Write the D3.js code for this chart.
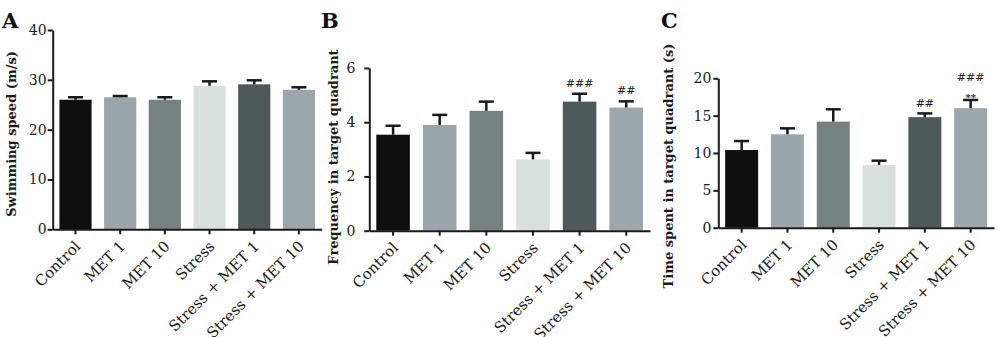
<!DOCTYPE html>
<html>
<head>
<meta charset="utf-8">
<script src="https://cdn.jsdelivr.net/npm/d3@7"></script>
<style>
  body { margin: 0; background: #fff; }
  svg { display: block; }
</style>
</head>
<body>
<div id="fig"></div>
<script>
// groups shared by the three panels
const groups = ["Control", "MET 1", "MET 10", "Stress", "Stress + MET 1", "Stress + MET 10"];

// A: swimming speed (mean, SEM)
const speedMean = [26.0, 26.5, 26.0, 28.8, 29.1, 28.0];
const speedSem = [0.5, 0.25, 0.5, 0.9, 0.8, 0.5];
const speedTicks = [0, 10, 20, 30, 40];

// B: frequency in target quadrant
const freqMean = [3.54, 3.90, 4.42, 2.63, 4.76, 4.54];
const freqSem = [0.33, 0.37, 0.34, 0.24, 0.29, 0.23];
const freqTicks = [0, 2, 4, 6];
const freqMarks = ["", "", "", "", "###", "##"];

// C: time spent in target quadrant
const timeMean = [10.4, 12.5, 14.2, 8.4, 14.8, 16.0];
const timeSem = [1.2, 0.8, 1.65, 0.57, 0.5, 1.1];
const timeTicks = [0, 5, 10, 15, 20];
const timeMarks = ["", "", "", "", "##", "###"];
const timeStars = ["", "", "", "", "", "**"];

const barColors = ["#0e100f", "#9ba6ab", "#75827f", "#d8e0de", "#4e5a5a", "#9ba7ac"];

const W = 1000, H = 337;
const svg = d3.select("#fig").append("svg")
    .attr("width", W)
    .attr("height", H);

const serif = "'DejaVu Serif', serif";
const ink = "#1a1a1a";

function drawPanel(p) {
    let g = svg.append("g");
    let xScale = d3.scaleBand()
        .domain(groups)
        .range([p.x0, p.x1])
        .paddingInner(0.28)
        .paddingOuter(0.15);
    let yScale = d3.scaleLinear()
        .domain([0, p.yMax])
        .range([p.yBottom, p.yTop]);

    let rows = groups.map((name, i) => ({
        name: name,
        mean: p.mean[i],
        sem: p.sem[i],
        color: barColors[i],
        mark: p.marks ? p.marks[i] : "",
        stars: p.stars ? p.stars[i] : ""
    }));

    // bars
    g.selectAll("rect.bar")
        .data(rows)
        .enter()
        .append("rect")
        .attr("class", "bar")
        .attr("x", d => xScale(d.name))
        .attr("width", xScale.bandwidth())
        .attr("y", d => yScale(d.mean))
        .attr("height", d => yScale(0) - yScale(d.mean))
        .attr("fill", d => d.color);

    // upper error bars
    let cx = d => xScale(d.name) + xScale.bandwidth() / 2;
    g.selectAll("line.err")
        .data(rows)
        .enter()
        .append("line")
        .attr("class", "err")
        .attr("x1", cx).attr("x2", cx)
        .attr("y1", d => yScale(d.mean))
        .attr("y2", d => yScale(d.mean + d.sem))
        .attr("stroke", ink)
        .attr("stroke-width", 2.5);
    g.selectAll("line.cap")
        .data(rows)
        .enter()
        .append("line")
        .attr("class", "cap")
        .attr("x1", d => cx(d) - 7.5).attr("x2", d => cx(d) + 7.5)
        .attr("y1", d => yScale(d.mean + d.sem))
        .attr("y2", d => yScale(d.mean + d.sem))
        .attr("stroke", ink)
        .attr("stroke-width", 2.5);

    // significance marks
    g.selectAll("text.mark")
        .data(rows.filter(d => d.mark))
        .enter()
        .append("text")
        .attr("class", "mark")
        .attr("x", cx)
        .attr("y", d => yScale(d.mean + d.sem) - (d.stars ? 19 : p.markGap))
        .attr("text-anchor", "middle")
        .attr("font-family", serif)
        .attr("font-size", "11px")
        .attr("fill", ink)
        .text(d => d.mark);
    g.selectAll("text.stars")
        .data(rows.filter(d => d.stars))
        .enter()
        .append("text")
        .attr("class", "stars")
        .attr("x", cx)
        .attr("y", d => yScale(d.mean + d.sem) + 1)
        .attr("text-anchor", "middle")
        .attr("font-family", serif)
        .attr("font-size", "10px")
        .attr("font-weight", "bold")
        .attr("fill", "#222")
        .text(d => d.stars);

    // y axis
    let yAxis = g.append("g")
        .attr("transform", `translate(${p.x0},0)`)
        .call(d3.axisLeft(yScale)
            .tickValues(p.ticks)
            .tickFormat(d3.format("d"))
            .tickSize(5)
            .tickPadding(p.tickPad)
            .tickSizeOuter(0));
    // x axis
    let xAxis = g.append("g")
        .attr("transform", `translate(0,${p.yBottom})`)
        .call(d3.axisBottom(xScale).tickSize(5).tickSizeOuter(0));

    [yAxis, xAxis].forEach(ax => {
        ax.select(".domain").attr("stroke", ink).attr("stroke-width", 2);
        ax.selectAll(".tick line").attr("stroke", ink).attr("stroke-width", 2);
        ax.selectAll("text")
            .attr("font-family", serif)
            .attr("font-size", "14px")
            .attr("fill", ink);
    });
    xAxis.selectAll(".tick text")
        .attr("font-size", "15px")
        .attr("text-anchor", "end")
        .attr("dy", 0)
        .attr("y", 0)
        .attr("transform", "translate(6,18) rotate(-45)");

    // y title
    g.append("text")
        .attr("transform", `translate(${p.titleX},${p.titleY}) rotate(-90)`)
        .attr("text-anchor", "middle")
        .attr("font-family", serif)
        .attr("font-weight", "bold")
        .attr("font-size", "13px")
        .attr("fill", ink)
        .text(p.title);

    // panel letter
    g.append("text")
        .attr("x", p.letterX)
        .attr("y", 28)
        .attr("font-family", serif)
        .attr("font-weight", "bold")
        .attr("font-size", "21px")
        .attr("fill", "#111")
        .text(p.letter);
}

drawPanel({
    letter: "A", letterX: 2,
    title: "Swimming speed (m/s)", titleX: 16, titleY: 134,
    mean: speedMean, sem: speedSem, ticks: speedTicks, yMax: 40,
    x0: 52.7, x1: 321.7, yTop: 30, yBottom: 229.3, tickPad: 1, markGap: 7
});
drawPanel({
    letter: "B", letterX: 321,
    title: "Frequency in target quadrant", titleX: 338, titleY: 157,
    mean: freqMean, sem: freqSem, ticks: freqTicks, yMax: 6, marks: freqMarks,
    x0: 369.3, x1: 650, yTop: 68, yBottom: 230.7, tickPad: 9, markGap: 7
});
drawPanel({
    letter: "C", letterX: 661,
    title: "Time spent in target quadrant (s)", titleX: 673, titleY: 166,
    mean: timeMean, sem: timeSem, ticks: timeTicks, yMax: 20, marks: timeMarks, stars: timeStars,
    x0: 718.3, x1: 994, yTop: 78.3, yBottom: 227.7, tickPad: 2, markGap: 6
});
</script>
</body>
</html>
